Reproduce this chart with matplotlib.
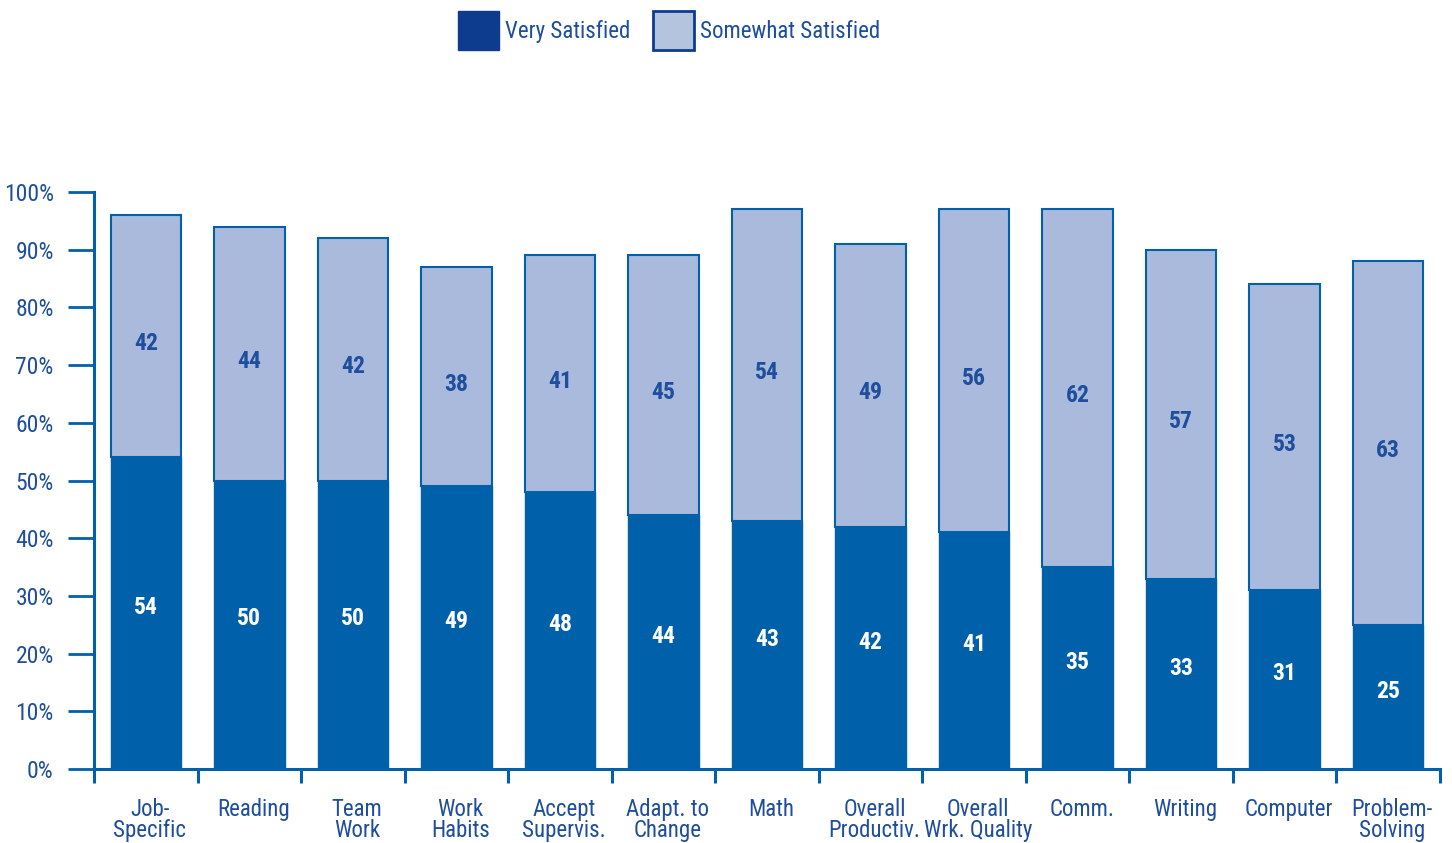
import matplotlib
matplotlib.use("Agg")
import matplotlib.pyplot as plt
import numpy as np

categories = ["Job-\nSpecific", "Reading", "Team\nWork", "Work\nHabits",
              "Accept\nSupervis.", "Adapt. to\nChange", "Math",
              "Overall\nProductiv.", "Overall\nWrk. Quality", "Comm.",
              "Writing", "Computer", "Problem-\nSolving"]
very = [54, 50, 50, 49, 48, 44, 43, 42, 41, 35, 33, 31, 25]
somewhat = [42, 44, 42, 38, 41, 45, 54, 49, 56, 62, 57, 53, 63]
yticks = [0, 10, 20, 30, 40, 50, 60, 70, 80, 90, 100]

dark = "#0060A9"
light = "#AABADD"
txt = "#1E4E9C"
leg_dark = "#0D3C8F"

plt.rcParams['font.family'] = ['Roboto Condensed', 'DejaVu Sans']
plt.rcParams['font.stretch'] = 'condensed'

fig = plt.figure(figsize=(14.52, 8.43), dpi=100)
ax = fig.add_axes([94/1452, 74/843, (1440-94)/1452, (769-192)/843])

x = np.arange(len(categories))
very = np.array(very)
somewhat = np.array(somewhat)
ax.bar(x, very, width=0.68, color=dark, edgecolor=dark, lw=1, label="Very Satisfied")
ax.bar(x, somewhat, width=0.68, bottom=very, color=light, edgecolor=dark, lw=1.5,
       label="Somewhat Satisfied")

for i in range(len(x)):
    ax.text(x[i], very[i] / 2 + 1, str(very[i]), ha='center', va='center',
            color='white', fontsize=17, fontweight='bold')
    ax.text(x[i], very[i] + somewhat[i] / 2 - 1.3, str(somewhat[i]), ha='center',
            va='center', color=txt, fontsize=17, fontweight='bold')

ax.set_xlim(-0.5, len(categories) - 0.5)
ax.set_ylim(0, 100)
ax.set_yticks(yticks)
ax.set_yticklabels(["{}%".format(v) for v in yticks])
ax.set_xticks(x + 0.04)
ax.set_xticklabels(categories, linespacing=0.9)
ax.set_xticks(np.arange(len(categories) + 1) - 0.5, minor=True)
ax.tick_params(axis='x', which='major', length=0, pad=21, labelsize=16.5, labelcolor=txt)
ax.tick_params(axis='x', which='minor', length=10, width=2.2, color=dark, direction='out')
ax.tick_params(axis='y', length=19, width=2, color=dark, pad=10, labelsize=17,
               labelcolor=txt)
for s in ['top', 'right']:
    ax.spines[s].set_visible(False)
for s in ['left', 'bottom']:
    ax.spines[s].set_color(dark)
    ax.spines[s].set_linewidth(2.2)

h, l = ax.get_legend_handles_labels()
h0 = plt.Rectangle((0, 0), 1, 1, fc=leg_dark, ec=leg_dark)
h1 = plt.Rectangle((0, 0), 1, 1, fc="#B4C4DE", ec=leg_dark, lw=2)
leg = fig.legend([h0, h1], l, loc='upper center', bbox_to_anchor=(669/1452, 1.012),
                 ncol=2, frameon=False, fontsize=16.5, handlelength=1.8,
                 handleheight=2.3, handletextpad=0.25, columnspacing=1.0)
for t in leg.get_texts():
    t.set_color(txt)

fig.savefig("out.png", dpi=100)
